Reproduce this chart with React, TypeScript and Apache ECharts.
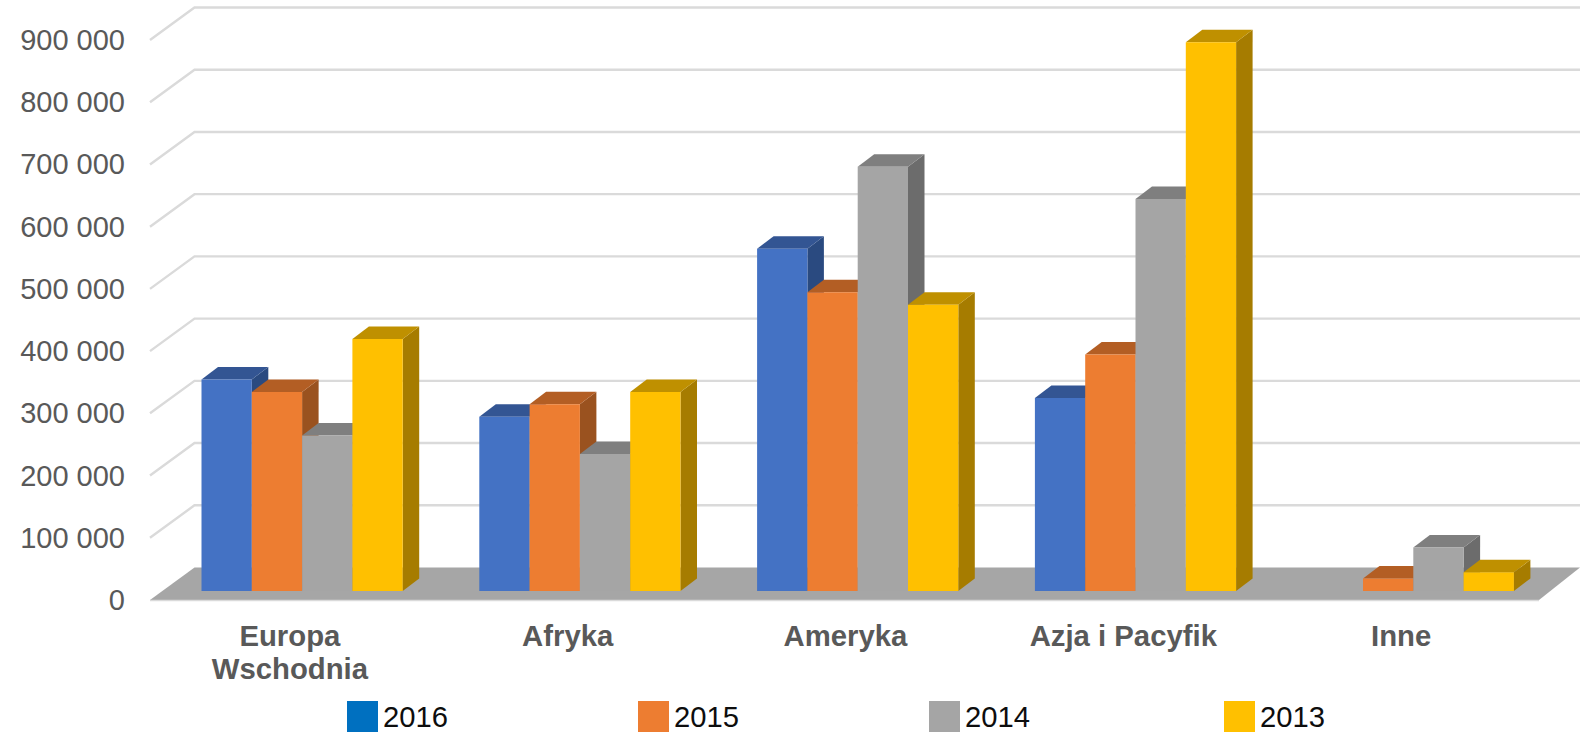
import React, { useEffect, useRef } from "react";
import * as echarts from "echarts";

const categories = ["Europa\nWschodnia", "Afryka", "Ameryka", "Azja i Pacyfik", "Inne"];
const valueTicks = [0, 100000, 200000, 300000, 400000, 500000, 600000, 700000, 800000, 900000];
const years = ["2016", "2015", "2014", "2013"];
const values2016 = [340000, 280000, 550000, 310000, null];
const values2015 = [320000, 300000, 480000, 380000, 20000];
const values2014 = [250000, 220000, 682000, 630000, 70000];
const values2013 = [405000, 320000, 460000, 882000, 30000];
const seriesValues = [values2016, values2015, values2014, values2013];

const legendColors = ["#0070C0", "#ED7D31", "#A5A5A5", "#FFC000"];
const faceColors = ["#4472C4", "#ED7D31", "#A5A5A5", "#FFC000"];
const topColors = ["#335593", "#B35E24", "#7F7F7F", "#BF9000"];
const sideColors = ["#2A4A80", "#9A521F", "#6C6C6C", "#A67C00"];
const legendLefts = [347, 638, 929, 1224];

const WALL_DX = 44.5;
const WALL_DY = 32.5;
const BAR_OFFSET_X = 51.5;
const BAR_OFFSET_Y = 9;
const BAR_DX = 16.5;
const BAR_DY = 12.5;
const BAR_WIDTH = 50.3;
const GRID_COLOR = "#DADADA";

function barRenderer(seriesIndex: number) {
  return (params: any, api: any) => {
    const value = api.value(1);
    if (value === null || value === undefined || Number.isNaN(value)) return null;
    const [cx, yTop] = api.coord([api.value(0), value]);
    const [, yBase] = api.coord([api.value(0), 0]);
    const band = api.size([1, 0])[0];
    const x0 = cx - band / 2 + BAR_OFFSET_X + BAR_WIDTH * seriesIndex;
    const x1 = x0 + BAR_WIDTH;
    const yT = yTop - BAR_OFFSET_Y;
    const yB = yBase - BAR_OFFSET_Y;
    return {
      type: "group",
      silent: true,
      children: [
        {
          type: "polygon",
          shape: { points: [[x1, yT], [x1 + BAR_DX, yT - BAR_DY], [x1 + BAR_DX, yB - BAR_DY], [x1, yB]] },
          style: { fill: sideColors[seriesIndex] },
        },
        {
          type: "polygon",
          shape: { points: [[x0, yT], [x0 + BAR_DX, yT - BAR_DY], [x1 + BAR_DX, yT - BAR_DY], [x1, yT]] },
          style: { fill: topColors[seriesIndex] },
        },
        {
          type: "rect",
          shape: { x: x0, y: yT, width: BAR_WIDTH, height: yB - yT },
          style: { fill: faceColors[seriesIndex] },
        },
      ],
    };
  };
}

function wallRenderer(params: any, api: any) {
  const cs = params.coordSys;
  const [, y] = api.coord([0, api.value(1)]);
  const left = cs.x;
  const right = cs.x + cs.width + 41;
  return {
    type: "polyline",
    silent: true,
    shape: { points: [[left, y], [left + WALL_DX, y - WALL_DY], [right, y - WALL_DY]] },
    style: { stroke: GRID_COLOR, lineWidth: 2.4, fill: "none" },
  };
}

function floorRenderer(params: any, api: any) {
  const cs = params.coordSys;
  const [, y] = api.coord([0, api.value(1)]);
  const left = cs.x;
  const right = cs.x + cs.width;
  return {
    type: "group",
    silent: true,
    children: [
      {
        type: "polygon",
        shape: { points: [[left, y], [left + WALL_DX, y - WALL_DY], [right + 41, y - WALL_DY], [right, y]] },
        style: { fill: "#A6A6A6" },
      },
      {
        type: "line",
        shape: { x1: left, y1: y + 0.5, x2: right, y2: y + 0.5 },
        style: { stroke: GRID_COLOR, lineWidth: 1.5 },
      },
    ],
  };
}

export default function App() {
  const ref = useRef<HTMLDivElement>(null);
  useEffect(() => {
    document.body.style.margin = "0";
    const chart = echarts.init(ref.current!, undefined, { renderer: "svg" });
    chart.setOption({
      animation: false,
      backgroundColor: "#FFFFFF",
      grid: { left: 150, right: 41, top: 40, bottom: 135, containLabel: false },
      xAxis: {
        type: "category",
        data: categories,
        axisLine: { show: false },
        axisTick: { show: false },
        axisLabel: {
          color: "#595959",
          fontFamily: "Liberation Sans",
          fontSize: 29.3,
          fontWeight: "bold",
          lineHeight: 33,
          margin: 19,
          padding: [0, 0, 0, 2],
          interval: 0,
        },
      },
      yAxis: {
        type: "value",
        min: 0,
        max: 900000,
        interval: 100000,
        splitLine: { show: false },
        axisLine: { show: false },
        axisTick: { show: false },
        axisLabel: {
          color: "#595959",
          fontFamily: "Liberation Sans",
          fontSize: 29,
          margin: 25,
          padding: [2, 0, 0, 0],
          formatter: (v: number) => String(v).replace(/\B(?=(\d{3})+$)/g, " "),
        },
      },
      legend: years.map((year, i) => ({
        data: [{ name: year, icon: "rect", itemStyle: { color: legendColors[i] } }],
        left: legendLefts[i],
        top: 701,
        padding: 0,
        itemWidth: 31,
        itemHeight: 31,
        selectedMode: false,
        textStyle: { color: "#0D0D0D", fontFamily: "Liberation Sans", fontSize: 29.2 },
      })),
      series: [
        {
          type: "custom",
          name: "floor",
          silent: true,
          clip: false,
          renderItem: floorRenderer,
          data: [[0, 0]],
          z: 1,
        },
        {
          type: "custom",
          name: "walls",
          silent: true,
          clip: false,
          renderItem: wallRenderer,
          data: valueTicks.slice(1).map((v) => [0, v]),
          z: 1,
        },
        ...years.map((year, i) => ({
          type: "custom",
          name: year,
          silent: true,
          clip: false,
          itemStyle: { color: legendColors[i] },
          renderItem: barRenderer(i),
          data: seriesValues[i].map((v, c) => [c, v]),
          z: 2,
        })),
      ],
    });
    return () => chart.dispose();
  }, []);
  return <div ref={ref} style={{ width: 1580, height: 735 }} />;
}
